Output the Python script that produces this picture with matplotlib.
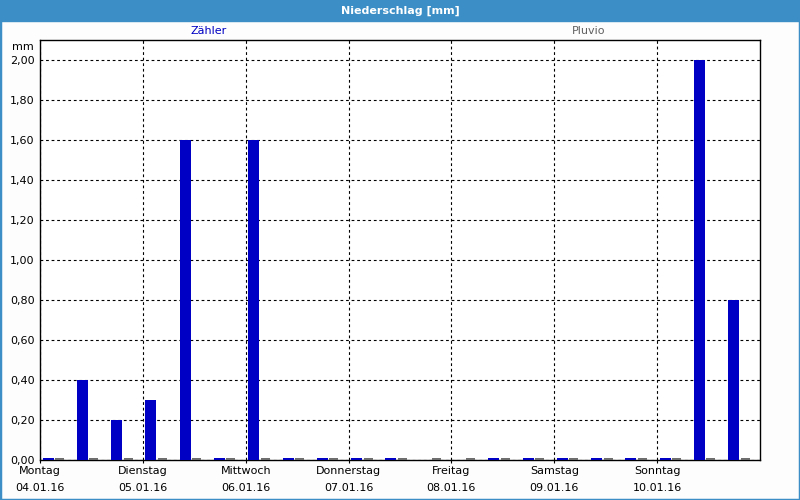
import numpy as np
import matplotlib
matplotlib.use("Agg")
import matplotlib.pyplot as plt
from matplotlib.patches import Rectangle

# 8-hour intervals, Monday 04.01.16 00:00 .. Monday 11.01.16 00:00
interval_start = [8 * k for k in range(21)]
zaehler = [0.0, 0.40, 0.20, 0.30, 1.60, 0.0, 1.60, 0.0, 0.0, 0.0, 0.0,
           np.nan, np.nan, 0.0, 0.0, 0.0, 0.0, 0.0, 0.0, 2.00, 0.80]
pluvio = [0.0, 0.0, 0.0, 0.0, 0.0, 0.0, 0.0, 0.0, 0.0, 0.0, 0.0,
          0.0, 0.0, 0.0, 0.0, 0.0, 0.0, 0.0, 0.0, 0.0, 0.0]
day_ticks = [0, 24, 48, 72, 96, 120, 144]
day_labels = ["Montag\n04.01.16", "Dienstag\n05.01.16", "Mittwoch\n06.01.16",
              "Donnerstag\n07.01.16", "Freitag\n08.01.16", "Samstag\n09.01.16",
              "Sonntag\n10.01.16"]
y_ticks = [0.0, 0.2, 0.4, 0.6, 0.8, 1.0, 1.2, 1.4, 1.6, 1.8, 2.0]

head_col = "#3c8fc6"
blue = "#0000c4"
gray = "#6e6e6e"
stub = 0.011  # zero values still show as a thin line

plt.rcParams["font.family"] = "DejaVu Sans"
plt.rcParams["font.size"] = 8

fig = plt.figure(figsize=(8, 5), dpi=100, facecolor="#fcfdfc")
ax = fig.add_axes([40 / 800, 40 / 500, 720 / 800, 420 / 500])
ax.set_facecolor("white")

x = np.array(interval_start, dtype=float)
z = np.array(zaehler)
p = np.array(pluvio)
zh = np.where(z == 0, stub, z)
ph = np.where(p == 0, stub, p)
ax.bar(x + 0.6, zh, width=2.55, align="edge", color=blue, zorder=3)
ax.bar(x + 3.5, ph, width=2.1, align="edge", color=gray, zorder=3)

ax.set_xlim(0, 168)
ax.set_ylim(0, 2.1)
ax.set_xticks(day_ticks)
ax.set_xticklabels(day_labels, linespacing=1.9)
ax.set_yticks(y_ticks)
ax.yaxis.set_major_formatter(plt.FuncFormatter(lambda v, _: ("%.2f" % v).replace(".", ",")))
ax.tick_params(axis="x", length=2, pad=2, colors="black")
ax.tick_params(axis="y", length=0, pad=4)
ax.grid(True, color="black", linestyle=(0, (2.5, 2.5)), linewidth=0.8, zorder=1)
for s in ax.spines.values():
    s.set_color("black")
    s.set_linewidth(1.0)

fig.text(34 / 800, 453 / 500, "mm", ha="right", va="center")

# header band and series labels
fig.patches.append(Rectangle((0, 479 / 500), 1, 21 / 500, transform=fig.transFigure,
                             color=head_col, zorder=0))
fig.patches.append(Rectangle((0, 0), 1, 1, transform=fig.transFigure, fill=False,
                             edgecolor=head_col, linewidth=2.5, zorder=5))
fig.text(0.5, 489 / 500, "Niederschlag [mm]", ha="center", va="center",
         color="white", fontweight="bold", fontsize=8)
fig.text(209 / 800, 469 / 500, "Zähler", ha="center", va="center", color=blue)
fig.text(589 / 800, 469 / 500, "Pluvio", ha="center", va="center", color="#606060")

fig.savefig("out.png", dpi=100, facecolor=fig.get_facecolor())
